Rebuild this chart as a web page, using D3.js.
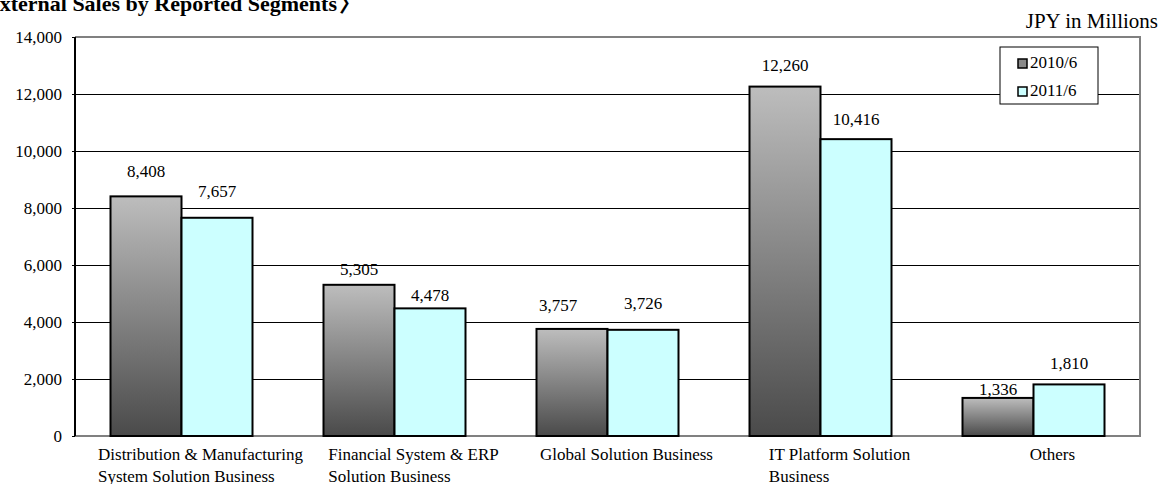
<!DOCTYPE html>
<html>
<head>
<meta charset="utf-8">
<script src="https://cdn.jsdelivr.net/npm/d3@7"></script>
<style>
  body { margin: 0; background: #fff; }
  text { font-family: "Liberation Serif", "Times New Roman", serif; fill: #000; }
</style>
</head>
<body>
<svg id="chart" width="1162" height="484"></svg>
<script>
"use strict";

// data
const categories = [
  ['Distribution & Manufacturing', 'System Solution Business'],
  ['Financial System & ERP', 'Solution Business'],
  ['Global Solution Business'],
  ['IT Platform Solution', 'Business'],
  ['Others'],
]
const series = ['2010/6', '2011/6']
const sales2010 = [8408, 5305, 3757, 12260, 1336]
const sales2011 = [7657, 4478, 3726, 10416, 1810]
const yTicks = [0, 2000, 4000, 6000, 8000, 10000, 12000, 14000]

// hand placed value labels in the original (px above bar top, px sideways)
const labelLift = [[19, 21], [10, 7], [18, 21], [16, 14], [3, 15]]
const labelShift = [[0, 0], [0, 0], [-14, 0], [0, 0], [0, 0]]

const m = { left: 75, right: 1140, top: 37, bottom: 436 }

const svg = d3.select('#chart')

const x0 = d3.scaleBand()
  .domain(d3.range(categories.length))
  .range([m.left, m.right])

const x1 = d3.scaleBand()
  .domain(series)
  .range([0, x0.bandwidth()])
  .paddingOuter(0.5)

const y = d3.scaleLinear()
  .domain([0, 14000])
  .range([m.bottom, m.top])

const defs = svg.append('defs')
const grad = defs.append('linearGradient')
  .attr('id', 'grey')
  .attr('x1', 0).attr('y1', 0).attr('x2', 0).attr('y2', 1)
grad.append('stop').attr('offset', 0).attr('stop-color', '#bdbdbd')
grad.append('stop').attr('offset', 1).attr('stop-color', '#4a4a4a')

const fills = { '2010/6': 'url(#grey)', '2011/6': '#ccffff' }

// title, cut off on the left and top like the source
const title = svg.append('text')
  .attr('x', -15)
  .attr('y', 11)
  .style('font-size', '22px')
  .style('font-weight', 'bold')
title.append('tspan').text('External Sales by Reported Segments')
title.append('tspan')
  .attr('dx', 2)
  .style('font-family', '"Noto Sans CJK JP", sans-serif')
  .text('〉')

svg.append('text')
  .attr('x', 1158)
  .attr('y', 28)
  .attr('text-anchor', 'end')
  .style('font-size', '21px')
  .text('JPY in Millions')

// gridlines
svg.append('g')
  .selectAll('line')
  .data(yTicks.filter(t => t > 0 && t < 14000))
  .join('line')
    .attr('x1', m.left).attr('x2', m.right)
    .attr('y1', d => y(d) + 0.5).attr('y2', d => y(d) + 0.5)
    .attr('stroke', '#000')
    .attr('stroke-width', 1)

// frame: grey top / right / bottom
svg.append('path')
  .attr('d', `M${m.left},${m.top}H${m.right}V${m.bottom}H${m.left}`)
  .attr('fill', 'none')
  .attr('stroke', '#808080')
  .attr('stroke-width', 2)

// y axis
const yAxis = svg.append('g')
  .attr('transform', `translate(${m.left},0)`)
  .call(d3.axisLeft(y)
    .tickValues(yTicks)
    .tickSize(3)
    .tickPadding(10)
    .tickFormat(d3.format(',')))

yAxis.select('.domain')
  .attr('d', `M0,${m.top}V${m.bottom}`)
  .attr('stroke', '#000')
  .attr('stroke-width', 2)
yAxis.selectAll('.tick line').attr('stroke', '#000')
yAxis.selectAll('.tick text')
  .style('font-family', '"Liberation Serif", serif')
  .style('font-size', '17px')
  .attr('fill', '#000')

// bars
const rows = categories.map((c, i) => ({
  i,
  values: [
    { key: series[0], v: sales2010[i], s: 0 },
    { key: series[1], v: sales2011[i], s: 1 },
  ],
}))

const groups = svg.append('g')
  .selectAll('g')
  .data(rows)
  .join('g')
    .attr('transform', d => `translate(${x0(d.i)},0)`)

groups.selectAll('rect')
  .data(d => d.values)
  .join('rect')
    .attr('x', d => x1(d.key))
    .attr('y', d => y(d.v))
    .attr('width', x1.bandwidth())
    .attr('height', d => y(0) - y(d.v))
    .attr('fill', d => fills[d.key])
    .attr('stroke', '#000')
    .attr('stroke-width', 2)

groups.selectAll('text.val')
  .data(d => d.values.map(v => ({ ...v, i: d.i })))
  .join('text')
    .attr('class', 'val')
    .attr('x', d => x1(d.key) + x1.bandwidth() / 2 + labelShift[d.i][d.s])
    .attr('y', d => y(d.v) - labelLift[d.i][d.s])
    .attr('text-anchor', 'middle')
    .style('font-size', '17px')
    .text(d => d3.format(',')(d.v))

// category labels: left aligned lines, block a bit right of centre
const cat = svg.append('g')
  .selectAll('text')
  .data(categories)
  .join('text')
    .style('font-size', '17px')

cat.selectAll('tspan')
  .data(d => d)
  .join('tspan')
    .attr('dy', (d, i) => i ? 22 : 0)
    .text(d => d)

cat.each(function(d, i) {
  const t = d3.select(this)
  const w = d3.max(t.selectAll('tspan').nodes(), n => n.getComputedTextLength())
  const left = x0(i) + x0.bandwidth() / 2 + 19 - w / 2
  t.attr('y', 460)
  t.selectAll('tspan').attr('x', left)
})

// legend
const lg = svg.append('g').attr('transform', 'translate(1000,47)')
lg.append('rect')
  .attr('width', 98).attr('height', 57)
  .attr('fill', '#fff')
  .attr('stroke', '#000')
  .attr('stroke-width', 1)

const li = lg.selectAll('g')
  .data(series)
  .join('g')
    .attr('transform', (d, i) => `translate(18,${12 + i * 28})`)

li.append('rect')
  .attr('width', 9).attr('height', 9)
  .attr('fill', d => d === series[0] ? '#8a8a8a' : fills[d])
  .attr('stroke', '#000')
  .attr('stroke-width', 1.5)

li.append('text')
  .attr('x', 12)
  .attr('y', 9)
  .style('font-size', '17px')
  .text(d => d)
</script>
</body>
</html>
